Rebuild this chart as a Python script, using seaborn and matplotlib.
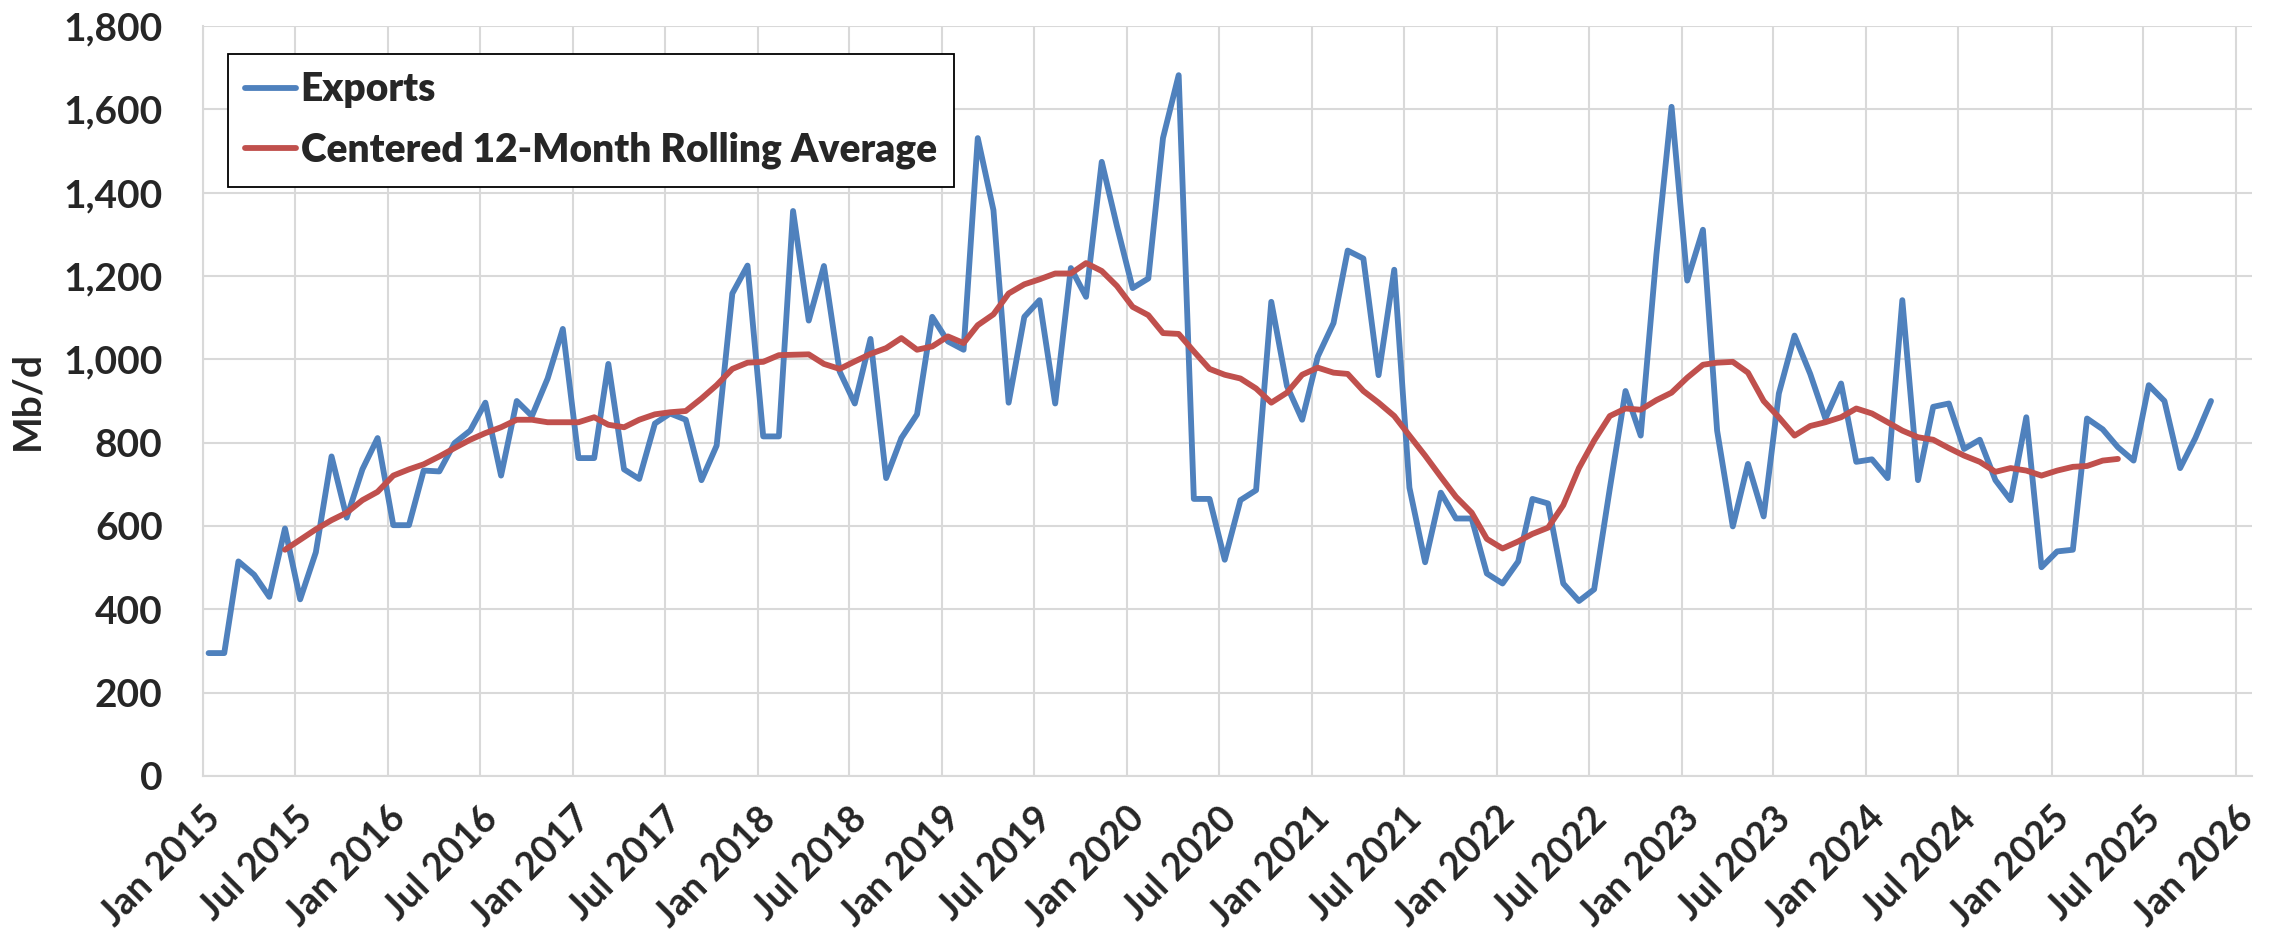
import pandas as pd
import matplotlib.pyplot as plt
from matplotlib.ticker import MultipleLocator, StrMethodFormatter
import seaborn as sns

sns.set_theme(style="white")
plt.rcParams['font.family'] = ['Lato', 'DejaVu Sans']
plt.rcParams['font.weight'] = 'bold'

# === Data (Mb/d) ===
first_month = "2015-01-01"

exports = [
    295, 295, 515, 483, 430, 594, 424, 537, 767, 620, 736, 811,        # 2015
    602, 602, 733, 731, 799, 829, 896, 721, 900, 864, 954, 1073,       # 2016
    763, 763, 989, 736, 713, 846, 870, 855, 710, 793, 1158, 1225,      # 2017
    815, 815, 1356, 1093, 1224, 971, 894, 1049, 715, 811, 868, 1102,   # 2018
    1043, 1023, 1531, 1358, 896, 1102, 1142, 894, 1219, 1150, 1474, 1320,  # 2019
    1171, 1194, 1531, 1682, 665, 665, 519, 662, 686, 1138, 936, 855,   # 2020
    1007, 1087, 1261, 1242, 962, 1215, 692, 513, 680, 618, 618, 486,   # 2021
    462, 515, 665, 654, 462, 420, 448, 690, 924, 817, 1251, 1606,      # 2022
    1189, 1311, 829, 599, 749, 623, 918, 1057, 965, 858, 942, 754,     # 2023
    760, 715, 1142, 710, 886, 894, 785, 807, 710, 662, 861, 501,       # 2024
    539, 543, 858, 832, 789, 757, 938, 900, 739, 811, 900,             # 2025
]

# centered average starts in Jun 2015 (index 5)
rolling_start = 5
rolling_avg = [
    543, 567, 592, 614, 632, 662, 682,
    721, 736, 748, 767, 787, 807, 823, 837, 855, 855, 849, 849,
    849, 861, 843, 837, 855, 868, 873, 876, 906, 938, 977, 992,
    994, 1010, 1011, 1012, 989, 977, 995, 1013, 1027, 1051, 1023, 1031,
    1055, 1039, 1082, 1108, 1158, 1180, 1192, 1206, 1206, 1231, 1212, 1176,
    1126, 1106, 1063, 1061, 1019, 977, 963, 954, 930, 896, 920, 963,
    980, 968, 965, 924, 896, 864, 817, 769, 718, 670, 632, 569,
    546, 563, 581, 596, 650, 739, 805, 864, 882, 879, 902, 920,
    956, 987, 992, 994, 968, 900, 861, 817, 840, 849, 861, 882,
    870, 849, 829, 813, 807, 787, 769, 754, 730, 739, 733, 721,
    733, 742, 744, 757, 761,
]

series_names = ['Exports', 'Centered 12-Month Rolling Average']
colors = {'Exports': '#4F81BD', 'Centered 12-Month Rolling Average': '#C0504D'}

tick_dates = pd.date_range("2015-01-01", "2026-01-01", freq="6MS")
tick_labels = [d.strftime('%b %Y') for d in tick_dates]

# === Build long-form frame ===
months = pd.date_range(first_month, periods=len(exports), freq="MS") + pd.Timedelta(days=11)
df = pd.concat([
    pd.DataFrame({'date': months, 'value': exports, 'series': series_names[0]}),
    pd.DataFrame({'date': months[rolling_start:rolling_start + len(rolling_avg)],
                  'value': rolling_avg, 'series': series_names[1]}),
], ignore_index=True)

# === Plot ===
W, H = 2275, 943
fig = plt.figure(figsize=(W / 100, H / 100), dpi=100)
ax = fig.add_axes([203 / W, 1 - 776 / H, 2049 / W, 750 / H])

lw = 4.2
sns.lineplot(data=df, x='date', y='value', hue='series', hue_order=series_names,
             palette=colors, linewidth=lw, errorbar=None, ax=ax,
             solid_joinstyle='round', solid_capstyle='round')

ax.set_ylim(0, 1800)
ax.yaxis.set_major_locator(MultipleLocator(200))
ax.yaxis.set_major_formatter(StrMethodFormatter('{x:,.0f}'))
ax.set_xlim(pd.Timestamp("2015-01-01"), pd.Timestamp("2026-02-01"))
ax.set_xticks(tick_dates)
ax.set_xticklabels(tick_labels, rotation=45, ha='right', rotation_mode='anchor',
                   fontsize=27, fontweight='bold')
for lbl in ax.get_yticklabels():
    lbl.set_fontsize(28)
    lbl.set_fontweight('bold')

ax.grid(True, color='#D9D9D9', linewidth=1.5)
ax.tick_params(axis='both', length=0)
ax.tick_params(axis='y', pad=29)
ax.tick_params(axis='x', pad=18)
for side in ['top', 'right']:
    ax.spines[side].set_visible(False)
for side in ['left', 'bottom']:
    ax.spines[side].set_color('#D9D9D9')
    ax.spines[side].set_linewidth(1.5)

ax.set_xlabel('')
ax.set_ylabel('Mb/d', fontsize=28, fontweight='bold', labelpad=14)

leg = ax.legend(title=None, loc='upper left', bbox_to_anchor=(0.0122, 0.9627),
                borderaxespad=0, frameon=True, fancybox=False, framealpha=1,
                edgecolor='black', fontsize=28,
                handlelength=1.3, handletextpad=0.12, labelspacing=0.6,
                borderpad=0.45)
leg.get_frame().set_linewidth(1.3)
for txt in leg.get_texts():
    txt.set_fontweight('heavy')
for line in leg.get_lines():
    line.set_linewidth(lw)

fig.savefig('out.png', dpi=100)
